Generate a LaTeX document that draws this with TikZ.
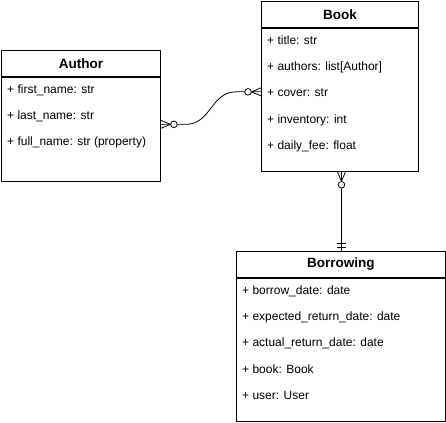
\documentclass[tikz,border=0pt]{standalone}
\usepackage{fontspec}
\setmainfont{Liberation Sans}
\usepackage{tikz}
\usetikzlibrary{positioning,calc}

\tikzset{
    classhead/.style={draw, line width=0.9pt, anchor=north west, minimum height=26pt, inner sep=0pt, font=\fontsize{13.5}{16}\selectfont\bfseries},
    classbody/.style={draw, line width=0.9pt, inner sep=0pt},
    attr/.style={anchor=north west, inner sep=0pt, minimum height=26pt, text height=9pt, text depth=3pt, font=\fontsize{12}{14}\selectfont},
    conn/.style={line width=0.8pt},
    zeromany/.pic={
        \draw[conn] (0pt,4pt) -- (9.5pt,0pt) -- (0pt,-4pt);
        \draw[conn, fill=white] (13pt,0pt) circle (3.3pt);
    },
    mandone/.pic={
        \draw[conn] (4pt,4.5pt) -- (4pt,-4.5pt) (7.5pt,4.5pt) -- (7.5pt,-4.5pt);
    }
}

\begin{document}
\begin{tikzpicture}[x=1pt, y=-1pt]
    \useasboundingbox (0,0) rectangle (446,422);

    \node[classhead, minimum width=159pt] (author) at (1,50) {Author};
    \node[classbody, minimum width=159pt, minimum height=104pt, below=0pt of author] (authorbody) {};
    \node[attr] (afirst) at ([xshift=6pt]authorbody.north west) {+ first\_name: str};
    \node[attr, below=0pt of afirst.south west, anchor=north west] (alast) {+ last\_name: str};
    \node[attr, below=0pt of alast.south west, anchor=north west] (afull) {+ full\_name: str (property)};

    \node[classhead, minimum width=157pt] (book) at (261,1) {Book};
    \node[classbody, minimum width=157pt, minimum height=143pt, below=0pt of book] (bookbody) {};
    \node[attr] (btitle) at ([xshift=6pt]bookbody.north west) {+ title: str};
    \node[attr, below=0pt of btitle.south west, anchor=north west] (bauthors) {+ authors: list[Author]};
    \node[attr, below=0pt of bauthors.south west, anchor=north west] (bcover) {+ cover: str};
    \node[attr, below=0pt of bcover.south west, anchor=north west] (binventory) {+ inventory: int};
    \node[attr, below=0pt of binventory.south west, anchor=north west] (bfee) {+ daily\_fee: float};

    \node[classhead, minimum width=209pt] (borrowing) at (236,251) {Borrowing};
    \node[classbody, minimum width=209pt, minimum height=143pt, below=0pt of borrowing] (borrowingbody) {};
    \node[attr] (rdate) at ([xshift=6pt]borrowingbody.north west) {+ borrow\_date: date};
    \node[attr, below=0pt of rdate.south west, anchor=north west] (rexpected) {+ expected\_return\_date: date};
    \node[attr, below=0pt of rexpected.south west, anchor=north west] (ractual) {+ actual\_return\_date: date};
    \node[attr, below=0pt of ractual.south west, anchor=north west] (rbook) {+ book: Book};
    \node[attr, below=0pt of rbook.south west, anchor=north west] (ruser) {+ user: User};

    \coordinate (aend) at ([yshift=5pt]authorbody.east);
    \coordinate (bwest) at ([yshift=8pt]bookbody.west);
    \coordinate (bsouth) at ([xshift=1.5pt]bookbody.south);
    \coordinate (rnorth) at (bsouth |- borrowing.north);

    \draw[conn] (aend) -- ([xshift=25pt]aend) .. controls ([xshift=50pt]aend) and ([xshift=-50pt]bwest) .. ([xshift=-25pt]bwest) -- (bwest);
    \draw[conn] (bsouth) -- (rnorth);
    \pic at (aend) {zeromany};
    \pic[rotate=180] at (bwest) {zeromany};
    \pic[rotate=-90] at (bsouth) {zeromany};
    \pic[rotate=90] at (rnorth) {mandone};
\end{tikzpicture}
\end{document}
